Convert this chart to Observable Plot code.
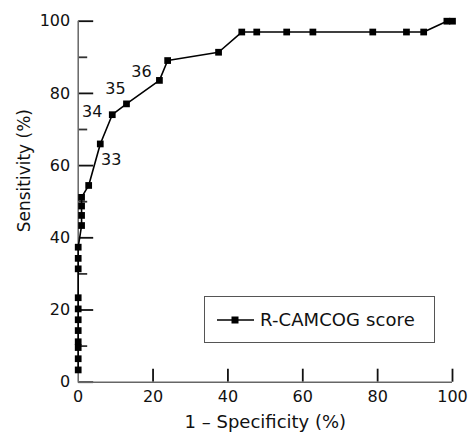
<!DOCTYPE html>
<html>
<head>
<meta charset="utf-8">
<script src="https://cdn.jsdelivr.net/npm/d3@7"></script>
<script src="https://cdn.jsdelivr.net/npm/@observablehq/plot@0.6"></script>
<style>
  html, body { margin: 0; padding: 0; background: #fff; }
  #wrap { position: relative; width: 469px; height: 435px; font-family: "DejaVu Sans", sans-serif; }
  #legend { position: absolute; left: 204px; top: 296px; width: 231px; height: 47px; box-sizing: border-box;
            border: 1px solid #555; background: #fff; display: flex; align-items: center; }
  #legend svg { margin-left: 12px; }
  #legend span { font-size: 18px; color: #111; margin-left: 6px; letter-spacing: 0.1px; }
</style>
</head>
<body>
<div id="wrap"></div>
<script>
// 1 - specificity (%) and sensitivity (%) along the R-CAMCOG ROC curve
const fpr = [0, 0, 0, 0, 0, 0, 0, 0, 0, 0, 0,
             0.9, 0.9, 0.9, 0.9,
             2.8, 5.9, 9.1, 12.9, 21.7, 23.9, 37.5,
             43.7, 47.7, 55.7, 62.7, 78.7, 87.7, 92.3, 98.5, 100];
const sens = [3.4, 6.5, 9.6, 11.2, 14.3, 17.3, 20.3, 23.4, 31.4, 34.3, 37.4,
              43.4, 46.2, 48.8, 51.2,
              54.5, 66.0, 74.1, 77.1, 83.6, 89.1, 91.4,
              97.0, 97.0, 97.0, 97.0, 97.0, 97.0, 97.0, 100, 100];
// cut-off score labels and the curve point each belongs to
const cutLabels = ["33", "34", "35", "36"];
const cutPointIndex = [16, 17, 18, 19];
const cutDx = [11, -20, -11, -18];
const cutDy = [16, -3, -15, -9];

const xTicks = [0, 20, 40, 60, 80, 100];
const xTickMarks = [20, 40, 60, 80, 100];
const yTicks = [0, 20, 40, 60, 80, 100];
const yMinor = [10, 30, 50, 70, 90];
const seriesName = "R-CAMCOG score";

const points = fpr.map((x, i) => ({x, y: sens[i]}));

const W = 469, H = 435;
const mL = 77.7, mR = 17, mT = 20.7, mB = 53.3;
const plotW = W - mL - mR, plotH = H - mT - mB;
// inward tick lengths (pixels) converted to fractions of the 0–100 domain
const xTickLen = 13 / plotH * 100;
const yMajLen = 15 / plotW * 100;
const yMinLen = 9 / plotW * 100;

const cutMarks = cutLabels.map((t, i) =>
  Plot.text([{t, x: fpr[cutPointIndex[i]], y: sens[cutPointIndex[i]]}],
    {x: "x", y: "y", text: "t", dx: cutDx[i], dy: cutDy[i], fontSize: 16, fill: "#111"}));

const chart = Plot.plot({
  width: W, height: H,
  marginLeft: mL, marginRight: mR, marginTop: mT, marginBottom: mB,
  style: {fontFamily: "DejaVu Sans, sans-serif", fontSize: "16px", color: "#111", background: "#fff"},
  x: {domain: [0, 100]},
  y: {domain: [0, 100]},
  marks: [
    Plot.axisX({ticks: xTicks, tickSize: 0, tickPadding: 8, label: null, fontSize: 16}),
    Plot.axisY({ticks: yTicks, tickSize: 0, tickPadding: 8, label: null, fontSize: 16}),
    Plot.text(["1 – Specificity (%)"], {frameAnchor: "bottom", textAnchor: "middle", dy: 46, fontSize: 18, fill: "#111"}),
    Plot.text(["Sensitivity (%)"], {frameAnchor: "left", textAnchor: "middle", rotate: -90, dx: -54, dy: -31, fontSize: 17, fill: "#111"}),
    Plot.ruleX(xTickMarks, {x: d => d, y1: 0, y2: xTickLen, stroke: "#111", strokeWidth: 1.8}),
    Plot.link(yTicks, {x1: () => 0, x2: () => yMajLen, y1: d => d, y2: d => d, stroke: "#111", strokeWidth: 1.8}),
    Plot.link(yMinor, {x1: () => 0, x2: () => yMinLen, y1: d => d, y2: d => d, stroke: "#333", strokeWidth: 1.8}),
    Plot.ruleX([0], {stroke: "#666", strokeWidth: 1.5}),
    Plot.ruleY([0], {stroke: "#666", strokeWidth: 1.5}),
    Plot.line(points, {x: "x", y: "y", stroke: "#000", strokeWidth: 1.6}),
    Plot.dot(points, {x: "x", y: "y", symbol: "square", r: 3.8, fill: "#000", stroke: "none"}),
    ...cutMarks
  ]
});
document.getElementById("wrap").appendChild(chart);

const legend = document.createElement("div");
legend.id = "legend";
legend.innerHTML = `<svg width="37" height="10"><line x1="0" x2="37" y1="5" y2="5" stroke="#000" stroke-width="1.6"/><rect x="14.5" y="1.5" width="7" height="7" fill="#000"/></svg><span>${seriesName}</span>`;
document.getElementById("wrap").appendChild(legend);
</script>
</body>
</html>
